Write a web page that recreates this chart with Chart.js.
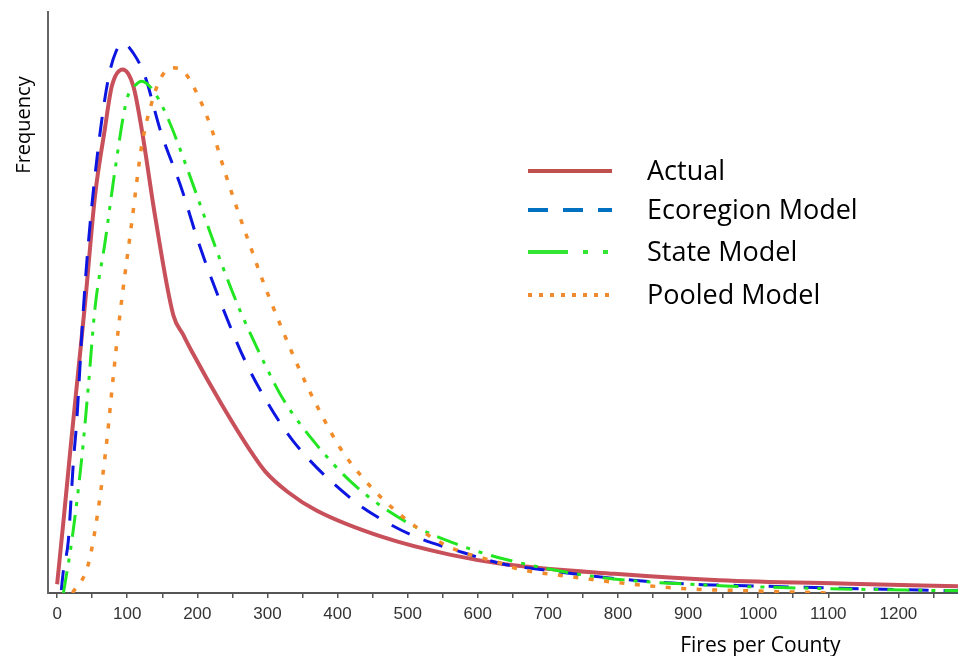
<!DOCTYPE html>
<html>
<head>
<meta charset="utf-8">
<script src="https://cdn.jsdelivr.net/npm/chart.js@4.4.1/dist/chart.umd.min.js"></script>
<style>
  html, body { margin: 0; padding: 0; background: #ffffff; }
  #wrap { width: 958px; height: 656px; position: relative; }
</style>
</head>
<body>
<div id="wrap"><canvas id="chart" width="958" height="656"></canvas></div>
<script>
// Series names, in legend order
const seriesNames = ['Actual', 'Ecoregion Model', 'State Model', 'Pooled Model'];

// Fires per county (x) and relative frequency (y) for each curve
const actualX = [0, 10, 20, 30, 40, 54, 68, 78, 93.6, 108.8, 120.7, 139.7, 165.8, 179.6, 192, 235, 275, 297, 330, 370, 465, 560, 636, 795, 945, 1130, 1285];
const actualY = [1.5, 13.5, 26, 38, 50, 68.3, 79.8, 87.2, 90.1, 87.2, 79.8, 64.9, 47.8, 44.5, 41.6, 32.4, 24.6, 20.9, 17.3, 14.2, 9.6, 6.6, 5.0, 3.3, 2.2, 1.6, 1.15];

const ecoregionX = [6, 9, 16, 20, 23.3, 28, 36.6, 44.7, 59, 73, 84, 94.6, 108.8, 125.5, 146.8, 177.8, 201.5, 234.8, 268, 296.6, 337, 417.7, 465, 512.8, 570, 636, 679, 821.6, 912, 969, 1230, 1285];
const ecoregionY = [0.5, 3.9, 9.0, 16.4, 22.7, 29.6, 47.3, 60.4, 77, 88.5, 93.2, 94.6, 92.9, 88.9, 79.8, 69.5, 60.4, 49.5, 40, 33.5, 26.1, 16.4, 12.5, 9.6, 7.3, 5.0, 4.2, 2.2, 1.5, 1.3, 0.5, 0.4];

const stateX = [9, 21, 35.2, 44.7, 54, 68.4, 82.7, 99.3, 108.8, 120.7, 139.7, 158.7, 187.2, 211, 234.8, 258.5, 277, 296.6, 322.7, 370.2, 417.7, 465.2, 512.8, 570, 636, 774, 936, 983, 1211, 1285];
const stateY = [0, 9.0, 23.3, 35.8, 49, 60.4, 72.9, 84.9, 87, 88.1, 86, 81.5, 72.5, 64.5, 56.6, 49.3, 44.3, 39.3, 33.3, 25.5, 19.3, 14.7, 11.3, 8.4, 5.9, 2.7, 1.3, 1.1, 0.5, 0.4];

const pooledX = [22, 44.6, 59, 70.8, 80.3, 89.8, 106.5, 120.7, 135, 146.8, 163.5, 180, 201.5, 220.5, 239.5, 258.5, 277.6, 291.9, 315.5, 351.2, 379.7, 403.5, 432, 465.2, 512.8, 560, 636, 655.5, 726.6, 821.6, 916.7, 950, 1040, 1100];
const pooledY = [0, 5.0, 14.7, 26.1, 37.5, 48.1, 63.8, 77, 84.4, 88.4, 90.4, 89.8, 85.5, 79.8, 72.4, 65.5, 59, 54.2, 47, 37, 30.1, 25, 20.4, 16.1, 11.3, 7.9, 5.0, 4.2, 2.9, 1.5, 0.6, 0.5, 0.2, 0];

// Tick marks on the x axis (every 50) and the ones that carry a label
const xTickValues = [0, 50, 100, 150, 200, 250, 300, 350, 400, 450, 500, 550, 600, 650, 700, 750, 800, 850, 900, 950, 1000, 1050, 1100, 1150, 1200, 1250];
const xTickLabels = ['0', '100', '200', '300', '400', '500', '600', '700', '800', '900', '1000', '1100', '1200'];

const xTitle = 'Fires per County';
const yTitle = 'Frequency';

function toPoints(xs, ys) {
  return xs.map((x, i) => ({ x: x, y: ys[i] }));
}

// Legend swatches: colour, width and dash pattern for each series
const legendStyles = [
  { color: '#c0504d', width: 4, dash: [] },
  { color: '#0070c0', width: 4, dash: [20, 15] },
  { color: '#33e633', width: 4, dash: [40, 15, 5, 15, 5, 20] },
  { color: '#ee8a30', width: 4, dash: [4, 7] }
];

const legendPlugin = {
  id: 'sideLegend',
  afterDraw(chart) {
    const ctx = chart.ctx;
    const lineStart = 528, lineEnd = 612, textX = 647;
    const rowY = [171, 210, 252, 295];
    ctx.save();
    chart.data.datasets.forEach((ds, i) => {
      const st = legendStyles[i];
      ctx.beginPath();
      ctx.setLineDash(st.dash);
      ctx.lineCap = 'butt';
      ctx.strokeStyle = st.color;
      ctx.lineWidth = st.width;
      ctx.moveTo(lineStart, rowY[i]);
      ctx.lineTo(lineEnd, rowY[i]);
      ctx.stroke();
      ctx.setLineDash([]);
      ctx.fillStyle = '#000000';
      ctx.font = '27px "Open Sans", sans-serif';
      ctx.textBaseline = 'middle';
      ctx.textAlign = 'left';
      ctx.fillText(ds.label, textX, rowY[i] + 1);
    });
    ctx.restore();
  }
};

const titlePlugin = {
  id: 'axisTitles',
  afterDraw(chart) {
    const ctx = chart.ctx;
    const xs = chart.scales.x;
    ctx.save();
    ctx.fillStyle = '#000000';
    ctx.font = '21px "Open Sans", sans-serif';
    ctx.textAlign = 'center';
    ctx.textBaseline = 'alphabetic';
    ctx.fillText(xTitle, xs.getPixelForValue(1003), 652);
    ctx.font = '20px "Open Sans", sans-serif';
    ctx.translate(30, 125);
    ctx.rotate(-Math.PI / 2);
    ctx.fillText(yTitle, 0, 0);
    ctx.restore();
  }
};

new Chart(document.getElementById('chart'), {
  type: 'line',
  data: {
    datasets: [
      {
        label: seriesNames[0],
        data: toPoints(actualX, actualY),
        borderColor: '#c8505a',
        borderWidth: 4,
        order: 3
      },
      {
        label: seriesNames[1],
        data: toPoints(ecoregionX, ecoregionY),
        borderColor: '#0c16e0',
        borderWidth: 3,
        borderDash: [20, 15],
        order: 2
      },
      {
        label: seriesNames[2],
        data: toPoints(stateX, stateY),
        borderColor: '#22e622',
        borderWidth: 3,
        borderDash: [22, 9, 4, 9, 4, 9],
        order: 1
      },
      {
        label: seriesNames[3],
        data: toPoints(pooledX, pooledY),
        borderColor: '#f28c2a',
        borderWidth: 3.5,
        borderDash: [5, 10.5],
        order: 0
      }
    ]
  },
  options: {
    responsive: false,
    animation: false,
    events: [],
    layout: { padding: { left: 48, top: 12, right: -3, bottom: 25.6 } },
    elements: {
      point: { radius: 0 },
      line: { tension: 0.4, cubicInterpolationMode: 'monotone', borderCapStyle: 'butt', fill: false }
    },
    plugins: {
      legend: { display: false },
      tooltip: { enabled: false },
      title: { display: false }
    },
    scales: {
      x: {
        type: 'linear',
        min: -13,
        max: 1285,
        afterBuildTicks: (scale) => {
          scale.ticks = xTickValues.map(v => ({ value: v }));
        },
        border: { display: true, color: '#555555', width: 2 },
        grid: { display: true, drawOnChartArea: false, drawTicks: true, tickLength: 5, color: '#555555', lineWidth: 1.5 },
        ticks: {
          autoSkip: false,
          maxRotation: 0,
          padding: 6,
          color: '#333333',
          font: { family: '"Liberation Sans", Arial, sans-serif', size: 17 },
          callback: (v) => (xTickLabels.includes(String(v)) ? String(v) : '')
        }
      },
      y: {
        type: 'linear',
        min: 0,
        max: 100,
        border: { display: true, color: '#666666', width: 2 },
        grid: { display: false, drawTicks: false },
        ticks: { display: false }
      }
    }
  },
  plugins: [legendPlugin, titlePlugin]
});
</script>
</body>
</html>
